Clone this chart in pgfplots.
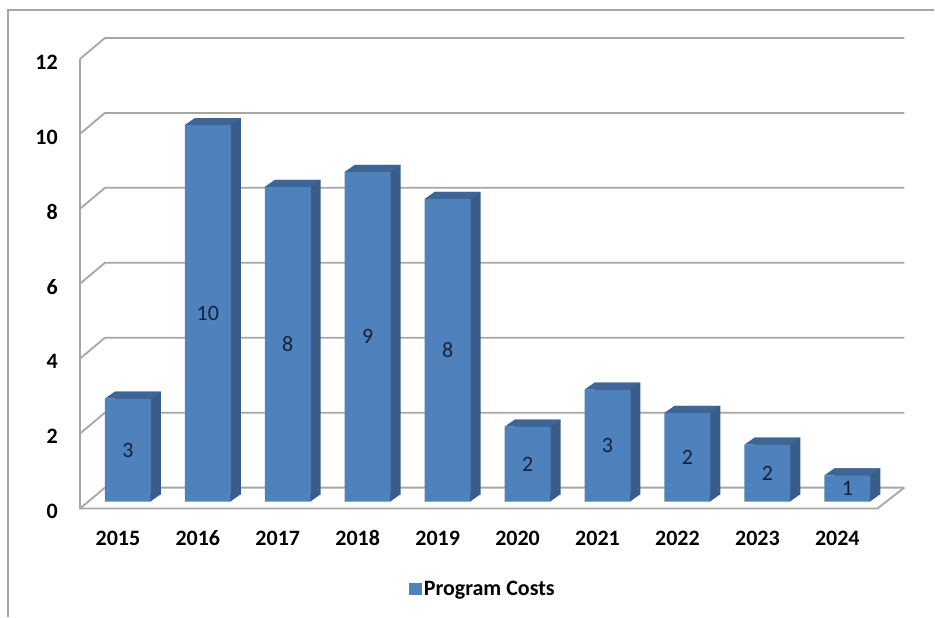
\documentclass[border=0pt]{standalone}
\usepackage{fontspec}
\setmainfont{Carlito}
\usepackage{pgfplots}
\usepackage{pgfplotstable}
\pgfplotsset{compat=1.18}
\definecolor{frontc}{HTML}{4F81BD}
\definecolor{sidec}{HTML}{385D8A}
\definecolor{topc}{HTML}{3D6596}
\definecolor{gridc}{HTML}{A6A6A6}
\definecolor{bordc}{HTML}{A6A6A6}
\definecolor{labc}{HTML}{14213D}
\pgfdeclareplotmark{topface}{%
  \pgfpathmoveto{\pgfqpoint{-23bp}{0bp}}%
  \pgfpathlineto{\pgfqpoint{23bp}{0bp}}%
  \pgfpathlineto{\pgfqpoint{33bp}{7bp}}%
  \pgfpathlineto{\pgfqpoint{-13bp}{7bp}}%
  \pgfpathclose\pgfusepathqfill}
\pgfdeclareplotmark{bottri}{%
  \pgfpathmoveto{\pgfqpoint{22.5bp}{0bp}}%
  \pgfpathlineto{\pgfqpoint{33bp}{7.5bp}}%
  \pgfpathlineto{\pgfqpoint{22.5bp}{7.5bp}}%
  \pgfpathclose\pgfusepathqfill}
\pgfplotstableread{
i year v
0 2015 2.75
1 2016 10.05
2 2017 8.40
3 2018 8.80
4 2019 8.08
5 2020 2.00
6 2021 2.99
7 2022 2.37
8 2023 1.52
9 2024 0.70
}\data
\newcommand{\bigf}{\fontsize{22bp}{26bp}\selectfont}
\begin{document}
\begin{tikzpicture}
\begin{axis}[
  x=80bp, y=37.5bp,
  xmin=-0.475, xmax=9.5, ymin=0, ymax=12,
  clip=false,
  axis line style={draw=none},
  tick style={draw=none},
  xtick={0,...,9},
  xticklabels={2015,2016,2017,2018,2019,2020,2021,2022,2023,2024},
  ytick={0,2,4,6,8,10,12},
  yticklabels={0,2,4,6,8,10,12},
  ticklabel style={font=\bigf\bfseries, text=black},
  xticklabel style={text height=14bp, text depth=0pt, yshift=-19bp},
  yticklabel style={xshift=-18.7bp, yshift=-3bp},
  legend style={at={(0.5056,-0.178)}, anchor=center, draw=none, fill=none,
    font=\bigf\bfseries, inner sep=0pt},
]
% bounding area of the picture
\path (axis cs:-1.475,-2.88) rectangle (axis cs:10.2125,13.5733);
% chart border
\draw[bordc, line width=1.5bp] (axis cs:-1.375,-2.88) -- (axis cs:-1.375,13.3067) -- (axis cs:10.2125,13.3067);
% walls and floor
\pgfplotsinvokeforeach{0,2,4,6,8,10,12}{
  \draw[gridc, line width=1.8bp] (axis cs:-0.475,#1) -- ([shift={(25bp,21bp)}]axis cs:-0.475,#1) -- ([shift={(27bp,21bp)}]axis cs:9.5,#1);
}
\draw[gridc, line width=1.8bp] (axis cs:-0.475,12) -- (axis cs:-0.475,0) -- (axis cs:9.5,0) -- ([shift={(27bp,21bp)}]axis cs:9.5,0);
% 3D bars
\addplot[ybar, bar width=46bp, bar shift=0pt, fill=sidec, draw=none, xshift=20bp, yshift=14bp, forget plot] table[x=i,y=v]{\data};
\addplot[only marks, mark=topface, color=topc, xshift=10bp, yshift=7bp, forget plot] table[x=i,y=v]{\data};
\addplot[only marks, mark=bottri, color=sidec, xshift=10bp, yshift=7bp, forget plot] table[x=i,y expr=0]{\data};
\addplot[ybar, bar width=46bp, bar shift=0pt, fill=frontc, draw=none, xshift=10bp, yshift=7bp, forget plot] table[x=i,y=v]{\data};
\addplot[draw=none, mark=none, forget plot, point meta=\thisrow{v},
  nodes near coords={\pgfmathprintnumber[fixed,precision=0,assume math mode=true]{\pgfplotspointmeta}},
  every node near coord/.append style={font=\bigf, text=labc, anchor=center, xshift=10bp, yshift=7bp}]
  table[x=i, y expr=\thisrow{v}/2]{\data};
\addlegendimage{legend image code/.code={\fill[frontc] (-3bp,-5.5bp) rectangle (9bp,5.5bp);}}
\addlegendentry{Program Costs}
\end{axis}
\end{tikzpicture}
\end{document}
